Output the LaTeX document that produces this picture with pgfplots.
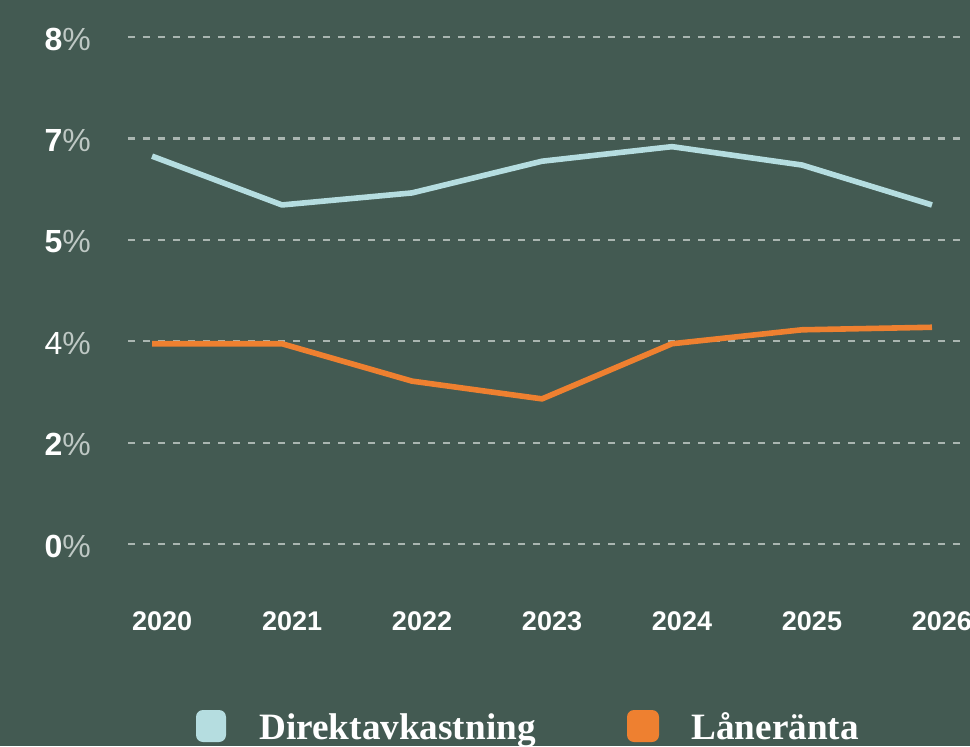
\documentclass[border=0pt]{standalone}
\usepackage{fontspec}
\setmainfont{Liberation Sans}
\newfontfamily\legfont{Liberation Serif}
\usepackage{pgfplots}
\pgfplotsset{compat=1.18}
\definecolor{bg}{RGB}{67,90,82}
\definecolor{gridc}{RGB}{170,182,177}
\definecolor{pctc}{RGB}{190,200,196}
\definecolor{direkt}{RGB}{181,221,224}
\definecolor{lane}{RGB}{238,128,48}
\pgfplotstableread{
x y
0 6.12
1 5.35
2 5.54
3 6.04
4 6.27
5 5.98
6 5.35
}\direkt
\pgfplotstableread{
x y
0 3.16
1 3.16
2 2.57
3 2.29
4 3.16
5 3.38
6 3.42
}\lane
\begin{document}
\begin{tikzpicture}
\useasboundingbox (0,0) rectangle (485pt,373pt);
\clip (0,0) rectangle (485pt,373pt);
\fill[bg] (0,0) rectangle (485pt,373pt);
\begin{axis}[
  at={(64pt,101pt)}, anchor=south west,
  scale only axis, width=418.5pt, height=253.5pt,
  xmin=-0.185, xmax=6.254, ymin=0, ymax=8,
  clip=false,
  axis line style={draw=none},
  tick style={draw=none},
  xtick={0,...,6},
  xticklabels={2020,2021,2022,2023,2024,2025,2026},
  xticklabel style={font=\fontsize{13.5}{16}\selectfont\bfseries, text=white, xshift=5pt, yshift=-30.5pt},
  ytick={0,1.6,3.2,4.8,6.4,8},
  yticklabels={{\bfseries 0}{\color{pctc}\%},{\bfseries 2}{\color{pctc}\%},{4}{\color{pctc}\%},{\bfseries 5}{\color{pctc}\%},{\bfseries 7}{\color{pctc}\%},{\bfseries 8}{\color{pctc}\%}},
  yticklabel style={font=\fontsize{16}{19}\selectfont, text=white, xshift=-15pt, yshift=-1pt},
  ymajorgrids,
  major grid style={draw=gridc, line width=1.1pt, dash pattern=on 3.5pt off 4pt},
]
\addplot[direkt, line width=2.8pt, line join=round] table[x=x,y=y] {\direkt};
\addplot[lane, line width=2.8pt, line join=round] table[x=x,y=y] {\lane};
\end{axis}
\fill[direkt, rounded corners=3.5pt] (98pt,2pt) rectangle (113pt,18pt);
\node[anchor=base west, inner sep=0pt, text=white, font=\legfont\bfseries\fontsize{18.6}{20}\selectfont] at (129.5pt,3.5pt) {Direktavkastning};
\fill[lane, rounded corners=3.5pt] (313.5pt,2pt) rectangle (329.5pt,18pt);
\node[anchor=base west, inner sep=0pt, text=white, font=\legfont\bfseries\fontsize{18.6}{20}\selectfont] at (345.5pt,3.5pt) {Låneränta};
\end{tikzpicture}
\end{document}
